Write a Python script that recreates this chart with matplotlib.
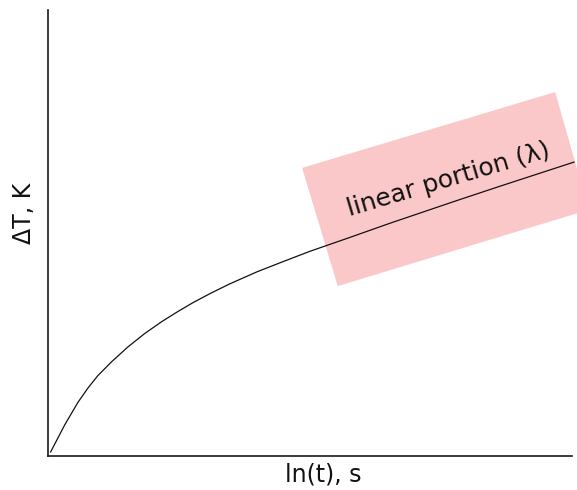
import matplotlib
matplotlib.use("Agg")
import matplotlib.pyplot as plt
from matplotlib.patches import Polygon

# curve (axis units 0..100 both ways)
ln_t = [0.5, 3.2, 5.7, 7.6, 9.5, 12.2, 15.3, 18.5, 21.8, 24.8, 27.7, 30.9,
        34.7, 39.9, 44.9, 50.0, 57.6, 65.3, 78.1, 86.3, 100.4]
dT = [0.9, 7.0, 12.0, 15.2, 18.0, 21.2, 24.5, 27.5, 30.2, 32.4, 34.4, 36.4,
      38.6, 41.3, 43.6, 45.9, 49.0, 52.2, 57.3, 60.5, 65.9]

# corners of the highlighted box (TL, TR, BR, BL)
box_x = [48.5, 96.8, 103.2, 55.3]
box_y = [64.6, 81.6, 55.2, 38.1]

label_text = "linear portion (\u03bb)"
label_pos = (76.5, 62.0)

fig = plt.figure(figsize=(5.77, 4.90), dpi=100)
ax = fig.add_axes([0.0832, 0.0694, 0.908, 0.9102])

ax.add_patch(Polygon(list(zip(box_x, box_y)), closed=True,
                     facecolor='#fbc8ca', edgecolor='none', zorder=1,
                     clip_on=False))
ax.plot(ln_t, dT, color='#111111', linewidth=0.9, zorder=2, clip_on=False)

ax.text(label_pos[0], label_pos[1], label_text, rotation=16.5,
        rotation_mode='anchor', ha='center', va='center',
        fontsize=18, color='#111111', zorder=3)

ax.set_xlim(0, 100)
ax.set_ylim(0, 100)
ax.set_xticks([])
ax.set_yticks([])
for s in ['top', 'right']:
    ax.spines[s].set_visible(False)
for s in ['left', 'bottom']:
    ax.spines[s].set_color('#1a1a1a')
    ax.spines[s].set_linewidth(1.2)

ax.set_xlabel('ln(t), s', fontsize=17, labelpad=4, color='#111111')
ax.set_ylabel('\u0394T, K', fontsize=17, labelpad=8, color='#111111')
ax.xaxis.set_label_coords(0.525, -0.015, transform=ax.transAxes)
ax.xaxis.label.set_va('top')
ax.yaxis.set_label_coords(-0.023, 0.543, transform=ax.transAxes)

fig.savefig('out.png', dpi=100)
